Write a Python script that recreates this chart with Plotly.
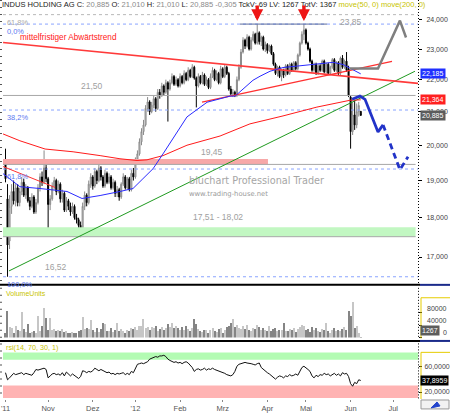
import math
import plotly.graph_objects as go

# ------------------------------------------------------------------ data
month_ticks = [0, 21, 43, 64, 86, 107, 129, 148, 170, 191]
month_labels = ["'11", "Nov", "Dez", "'12", "Feb", "Mrz", "Apr", "Mai", "Jun", "Jul"]

opens = [19.55, 18.50, 17.40, 18.30, 18.70, 18.45, 18.80, 18.40, 18.70, 18.95,
         18.60, 18.80, 18.45, 18.30, 18.55, 18.15, 18.40, 18.80, 19.10, 18.95,
         19.35, 19.05, 18.35, 18.50, 18.85, 19.00, 18.70, 18.90, 18.50, 18.65,
         18.20, 18.45, 18.30, 18.15, 18.30, 18.00, 17.95, 17.80, 17.65, 18.30,
         18.60, 18.40, 18.90, 19.10, 18.85, 19.25, 19.00, 19.35, 19.10, 18.85,
         19.20, 18.95, 19.10, 18.80, 18.95, 18.65, 18.75, 18.55, 18.90, 19.10,
         18.80, 19.05, 18.75, 19.20, 19.10, 19.60, 19.75, 20.10, 20.40, 20.60,
         21.10, 21.30, 21.00, 21.20, 21.40, 21.10, 21.60, 21.50, 21.80, 21.60,
         21.90, 21.70, 21.90, 22.10, 21.85, 22.00, 21.80, 22.10, 21.90, 22.20,
         22.00, 22.30, 22.10, 22.40, 22.05, 21.80, 22.10, 21.90, 22.15, 21.85,
         22.00, 21.75, 22.10, 22.30, 22.00, 22.20, 21.90, 22.35, 22.10, 22.40,
         22.20, 21.70, 21.55, 21.60, 21.50, 22.00, 22.40, 22.90, 23.30, 23.10,
         23.40, 23.00, 23.30, 23.50, 23.20, 23.55, 23.25, 23.40, 23.00, 23.15,
         22.95, 23.10, 22.85, 22.50, 22.20, 22.40, 22.10, 22.30, 22.15, 22.45,
         22.20, 22.50, 22.30, 22.55, 22.35, 22.80, 23.20, 23.50, 23.65, 23.20,
         23.00, 22.60, 22.30, 22.50, 22.20, 22.45, 22.30, 22.60, 22.25, 22.50,
         22.20, 22.40, 22.65, 22.30, 22.55, 22.20, 22.70, 22.40, 22.60, 22.35,
         21.45, 20.40, 20.90, 20.60, 21.00, 21.01]

highs = [19.90, 18.90, 18.60, 18.90, 19.00, 18.90, 18.90, 18.80, 19.10, 19.05,
         18.90, 18.85, 18.55, 18.65, 18.60, 18.50, 18.90, 19.20, 19.25, 19.85,
         19.45, 19.10, 18.60, 18.95, 19.10, 19.05, 19.00, 18.95, 18.75, 18.70,
         18.55, 18.50, 18.40, 18.40, 18.35, 18.10, 18.00, 17.90, 18.40, 18.70,
         18.65, 19.00, 19.20, 19.15, 19.35, 19.30, 19.50, 19.40, 19.15, 19.30,
         19.25, 19.20, 19.15, 19.05, 19.00, 18.85, 18.80, 18.95, 19.20, 19.15,
         19.10, 19.10, 19.30, 19.35, 19.65, 19.85, 20.20, 20.50, 20.75, 21.20,
         21.45, 21.35, 21.30, 21.50, 21.45, 21.70, 21.70, 21.90, 21.85, 22.00,
         21.95, 22.00, 22.20, 22.15, 22.10, 22.05, 22.20, 22.15, 22.30, 22.25,
         22.40, 22.35, 22.50, 22.45, 22.10, 22.20, 22.15, 22.25, 22.20, 22.10,
         22.05, 22.20, 22.40, 22.35, 22.30, 22.25, 22.45, 22.40, 22.50, 22.45,
         22.25, 21.80, 21.70, 21.65, 22.10, 22.50, 23.00, 23.40, 23.35, 23.50,
         23.45, 23.40, 23.60, 23.55, 23.85, 23.60, 23.45, 23.45, 23.25, 23.20,
         23.15, 23.15, 22.90, 22.55, 22.45, 22.45, 22.35, 22.35, 22.50, 22.50,
         22.55, 22.55, 22.60, 22.60, 22.85, 23.25, 23.60, 23.85, 23.70, 23.25,
         23.05, 22.65, 22.55, 22.55, 22.50, 22.50, 22.65, 22.65, 22.55, 22.55,
         22.45, 22.70, 22.70, 22.60, 22.60, 22.75, 22.80, 22.65, 22.90, 22.45,
         21.50, 21.30, 21.35, 21.25, 21.30, 21.01]

lows = [18.95, 16.52, 17.20, 18.10, 18.35, 18.30, 18.30, 18.30, 18.60, 18.55,
        18.50, 18.40, 18.20, 18.25, 18.10, 18.10, 18.35, 18.70, 18.85, 18.90,
        18.95, 17.60, 18.20, 18.45, 18.75, 18.60, 18.65, 18.40, 18.40, 18.15,
        18.15, 18.20, 18.05, 18.10, 17.95, 17.85, 17.70, 17.50, 17.60, 18.20,
        18.30, 18.35, 18.80, 18.75, 18.80, 18.90, 18.95, 19.00, 18.80, 18.80,
        18.90, 18.90, 18.75, 18.75, 18.55, 18.55, 18.45, 18.50, 18.85, 18.75,
        18.75, 18.70, 18.70, 19.00, 19.05, 19.50, 19.70, 20.00, 20.30, 20.55,
        21.00, 20.90, 20.95, 21.10, 21.00, 21.05, 21.40, 21.45, 21.50, 21.55,
        20.70, 21.65, 21.85, 21.80, 21.80, 21.75, 21.75, 21.85, 21.85, 21.95,
        21.95, 22.05, 22.05, 22.00, 21.13, 21.75, 21.85, 21.85, 21.80, 21.80,
        21.70, 21.70, 22.05, 21.95, 21.95, 21.85, 21.85, 22.05, 22.05, 22.15,
        21.65, 21.50, 21.45, 21.45, 21.45, 21.95, 22.35, 22.85, 23.00, 23.05,
        22.95, 22.95, 23.25, 23.15, 23.15, 23.15, 23.10, 22.95, 22.90, 22.85,
        22.90, 22.80, 22.45, 22.15, 22.10, 22.05, 21.95, 22.05, 22.10, 22.15,
        22.15, 22.25, 22.25, 22.30, 22.30, 22.75, 23.15, 23.30, 23.15, 22.95,
        22.55, 22.25, 22.25, 22.15, 22.15, 22.25, 22.25, 22.20, 22.20, 22.15,
        22.15, 22.35, 22.25, 22.25, 22.15, 22.15, 22.35, 22.35, 22.25, 21.45,
        19.90, 20.30, 20.45, 20.50, 20.85, 20.885]

closes = [19.05, 17.30, 18.30, 18.70, 18.45, 18.80, 18.40, 18.70, 18.95, 18.60,
          18.80, 18.45, 18.30, 18.55, 18.15, 18.40, 18.80, 19.10, 18.95, 19.35,
          19.05, 18.35, 18.50, 18.85, 19.00, 18.70, 18.90, 18.50, 18.65, 18.20,
          18.45, 18.30, 18.15, 18.30, 18.00, 17.95, 17.80, 17.65, 18.30, 18.60,
          18.40, 18.90, 19.10, 18.85, 19.25, 19.00, 19.35, 19.10, 18.85, 19.20,
          18.95, 19.10, 18.80, 18.95, 18.65, 18.75, 18.55, 18.90, 19.10, 18.80,
          19.05, 18.75, 19.20, 19.10, 19.60, 19.75, 20.10, 20.40, 20.60, 21.10,
          21.30, 21.00, 21.20, 21.40, 21.10, 21.60, 21.50, 21.80, 21.60, 21.90,
          21.70, 21.90, 22.10, 21.85, 22.00, 21.80, 22.10, 21.90, 22.20, 22.00,
          22.30, 22.10, 22.40, 22.05, 21.80, 22.10, 21.90, 22.15, 21.85, 22.00,
          21.75, 22.10, 22.30, 22.00, 22.20, 21.90, 22.35, 22.10, 22.40, 22.20,
          21.70, 21.55, 21.60, 21.50, 22.00, 22.40, 22.90, 23.30, 23.10, 23.40,
          23.00, 23.30, 23.50, 23.20, 23.55, 23.25, 23.40, 23.00, 23.15, 22.95,
          23.10, 22.85, 22.50, 22.20, 22.40, 22.10, 22.30, 22.15, 22.45, 22.20,
          22.50, 22.30, 22.55, 22.35, 22.80, 23.20, 23.50, 23.65, 23.20, 23.00,
          22.60, 22.30, 22.50, 22.20, 22.45, 22.30, 22.60, 22.25, 22.50, 22.20,
          22.40, 22.65, 22.30, 22.55, 22.20, 22.70, 22.40, 22.60, 22.30, 21.50,
          20.40, 20.90, 20.60, 21.00, 21.19, 20.885]

volumes = [16000, 87000, 34000, 32000, 16000, 39000, 24000, 22000, 83000, 27000,
           19000, 45000, 16000, 19000, 21000, 16000, 69000, 21000, 37000, 96000,
           64000, 23000, 64000, 25000, 27000, 21000, 23000, 21000, 27000, 18000,
           21000, 16000, 15000, 18000, 16000, 15000, 21000, 23000, 66000, 27000,
           30000, 27000, 57000, 24000, 19000, 31000, 19000, 28000, 48000, 45000,
           22000, 20000, 30000, 18000, 26000, 46000, 20000, 29000, 22000, 16000,
           25000, 21000, 31000, 29000, 33000, 24000, 36000, 38000, 59000, 30000,
           33000, 25000, 35000, 32000, 37000, 22000, 28000, 35000, 26000, 31000,
           45000, 33000, 48000, 31000, 38000, 30000, 26000, 35000, 24000, 36000,
           27000, 22000, 30000, 59000, 45000, 29000, 22000, 18000, 26000, 23000,
           16000, 26000, 30000, 20000, 19000, 28000, 32000, 16000, 24000, 35000,
           38000, 47000, 59000, 33000, 42000, 31000, 27000, 37000, 29000, 40000,
           26000, 22000, 31000, 28000, 42000, 35000, 26000, 32000, 24000, 22000,
           38000, 21000, 27000, 31000, 20000, 25000, 23000, 48000, 22000, 20000,
           29000, 25000, 31000, 19000, 27000, 33000, 40000, 36000, 24000, 29000,
           19000, 33000, 24000, 30000, 21000, 19000, 27000, 23000, 48000, 22000,
           16000, 26000, 30000, 21000, 26000, 20000, 27000, 33000, 25000, 87000,
           69000, 115000, 32000, 37000, 16000, 1267]

rsi = [50, 39, 42, 46, 49, 47, 48, 48, 50, 47,
       49, 48, 47, 46, 50, 55, 54, 55, 56, 57,
       55, 42, 45, 48, 49, 47, 48, 46, 50, 45,
       51, 48, 45, 48, 46, 44, 41, 44, 53, 52,
       50, 52, 51, 53, 57, 55, 53, 55, 53, 52,
       50, 51, 48, 49, 47, 49, 48, 49, 50, 47,
       49, 47, 52, 50, 57, 63, 64, 65, 64, 66,
       67, 71, 72, 73, 75, 74, 76, 76, 77, 75,
       71, 69, 68, 66, 67, 65, 66, 64, 66, 67,
       65, 62, 58, 52, 55, 56, 54, 55, 57, 54,
       56, 55, 57, 55, 54, 53, 52, 50, 49, 47,
       46, 45, 47, 52, 60, 63, 64, 65, 66, 65,
       65, 64, 63, 62, 64, 65, 58, 55, 52, 50,
       48, 45, 42, 40, 43, 45, 44, 42, 45, 44,
       47, 45, 46, 48, 46, 52, 58, 60, 58, 55,
       52, 45, 42, 46, 44, 47, 46, 49, 47, 48,
       45, 47, 49, 46, 48, 45, 50, 48, 49, 44,
       33, 29, 35, 33, 39, 37.8959]

ma50_x = [-1.2, 7.1, 17.0, 30.3, 37.7, 46.6, 56.4, 62.8, 67.7, 72.7, 77.6, 82.5, 89.4,
          99.3, 110.6, 113.1, 118.0, 121.9, 125.4, 130.3, 136.7, 150.0, 161.3, 166.3,
          170.7, 175.0]
ma50_y = [19.19, 18.83, 18.78, 18.70, 18.51, 18.59, 18.70, 18.78, 19.05, 19.33, 19.75,
          20.21, 20.84, 21.29, 21.48, 21.48, 21.76, 21.98, 22.11, 22.27, 22.39, 22.49,
          22.56, 22.49, 22.33, 22.185]

ma200_x = [-1.2, 7.1, 19.5, 33.3, 46.6, 56.4, 64.8, 69.7, 77.6, 89.4, 105.7, 120.4,
           136.7, 153.4, 169.7, 175.0]
ma200_y = [20.33, 20.13, 19.89, 19.81, 19.70, 19.61, 19.56, 19.58, 19.70, 20.00, 20.27,
           20.63, 20.87, 21.14, 21.35, 21.364]

downtrend_x, downtrend_y = [-1.2, 203.2], [23.22, 21.88]
rising_red_x, rising_red_y = [96.8, 190.4], [21.29, 22.59]
left_red_x, left_red_y = [-1.2, 24.4], [19.39, 18.81]
uptrend_x, uptrend_y = [1.7, 201.7], [16.66, 22.27]

forecast_gray_x = [169.7, 183.5, 194.3, 197.3]
forecast_gray_y = [22.36, 22.36, 23.97, 23.39]
forecast_blue_x = [170.7, 174.6, 177.1, 179.6, 182.0, 183.5, 186.0]
forecast_blue_y = [21.38, 21.48, 21.38, 20.99, 20.57, 20.39, 20.60]
forecast_blue_dash_x = [186.0, 194.3, 198.3]
forecast_blue_dash_y = [20.60, 19.30, 19.67]

level_2150 = 21.50
level_1945 = 19.45
pink_zone = (19.45, 19.60)
pink_zone_end = 129.3
green_zone = (17.51, 17.75)
green_zone_label = "17,51 - 18,02"
zone_end = 202.0
upper_fib = 24.18
double_top_x = [115.5, 158.4]
arrow_days = [124, 147]

fib_ratios = [0.0, 0.382, 0.618, 1.0]
fib_labels = ["0,0%", "38,2%", "61,8%", "100,0%"]

vol_ticks = [0, 40000, 80000]
price_ticks = [17, 18, 19, 20, 21, 22, 23, 24]
rsi_ticks = [20, 60]

ma50_last, ma200_last = 22.185, 21.364

# ------------------------------------------------------------------ helpers
X0, X1 = -1.23, 203.2
W, H = 450, 413
ML, MR, MT, MB = 3, 32, 0, 11
PW, PH = W - ML - MR, H - MT - MB


def px_x(px):
    return (px - ML) / PW


def px_y(py):
    return 1 - (py - MT) / PH


def de(v, nd):
    return f"{v:.{nd}f}".replace(".", ",")


FONT = "Liberation Sans"
days = list(range(len(closes)))
hi = max(highs)
lo = min(lows)
fib_levels = [hi - r * (hi - lo) for r in fib_ratios]

fig = go.Figure()


def line(x, y, color, width=1, dash=None, axis="y"):
    fig.add_trace(go.Scatter(x=x, y=y, mode="lines", yaxis=axis, hoverinfo="skip",
                             line=dict(color=color, width=width, dash=dash),
                             showlegend=False))


def band(x0, x1, y0, y1, color, axis="y"):
    fig.add_trace(go.Scatter(x=[x0, x1, x1, x0, x0], y=[y0, y0, y1, y1, y0],
                             mode="lines", fill="toself", fillcolor=color,
                             line=dict(width=0), yaxis=axis, hoverinfo="skip",
                             showlegend=False))


# zones and levels
band(X0, zone_end, green_zone[0], green_zone[1], "#c2f7c2")
line([X0, zone_end], [green_zone[0]] * 2, "#a8a8a8")
band(X0, pink_zone_end, pink_zone[0], pink_zone[1], "#f7a8a8")
line([X0, zone_end], [level_1945] * 2, "#a8a8a8")
line([X0, zone_end], [level_2150] * 2, "#a8a8a8")
for lv in fib_levels:
    line([X0, X1], [lv, lv], "#8aa4ff", 1, "dot")
line([X0, X1], [upper_fib, upper_fib], "#b8b8b8", 1, "dot")
line(double_top_x, [hi, hi], "#5c6b9c", 1)

# trend lines
line(uptrend_x, uptrend_y, "#1f9a1f", 1)
line(left_red_x, left_red_y, "#ff3030", 1)
line(downtrend_x, downtrend_y, "#ff3a3a", 1.6)
line(rising_red_x, rising_red_y, "#ff3030", 1.3)
line(ma200_x, ma200_y, "#ff1a1a", 1)
line(ma50_x, ma50_y, "#2a2aff", 1)

# candles
fig.add_trace(go.Candlestick(
    x=days, open=opens, high=highs, low=lows, close=closes, yaxis="y",
    increasing=dict(line=dict(color="#8a8a8a", width=1), fillcolor="#d6d6d6"),
    decreasing=dict(line=dict(color="#000000", width=1), fillcolor="#000000"),
    hoverinfo="skip", showlegend=False))

# forecasts
line(forecast_gray_x, forecast_gray_y, "#7f7f7f", 2.5)
line(forecast_blue_x, forecast_blue_y, "#2233c8", 2.8)
line(forecast_blue_dash_x, forecast_blue_dash_y, "#2233c8", 2.8, "6px,4px")

# volume
vol_colors = ["#c6c6c6" if c >= o else "#858585" for o, c in zip(opens, closes)]
fig.add_trace(go.Bar(x=days, y=volumes, yaxis="y2", marker=dict(color=vol_colors, line=dict(width=0)),
                     width=0.55, hoverinfo="skip", showlegend=False))

# RSI
RSI_RANGE = [9.2, 95.4]
band(X0, X1, 70, 81.5, "#b3fbb3", "y3")
band(X0, X1, 10.6, 30, "#ffb3b3", "y3")
line(days, rsi, "#111111", 1, None, "y3")

# ------------------------------------------------------------------ layout
main_dom = [px_y(286), 1]
vol_dom = [px_y(340), px_y(290)]
rsi_dom = [0, px_y(346)]

tickfont = dict(family=FONT, size=7, color="#444444")

fig.update_layout(
    width=W, height=H, margin=dict(l=ML, r=MR, t=MT, b=MB),
    paper_bgcolor="white", plot_bgcolor="white", showlegend=False,
    bargap=0,
    xaxis=dict(range=[X0, X1], anchor="y3", tickvals=month_ticks, ticktext=month_labels,
               tickfont=dict(family=FONT, size=7.5, color="#555555"),
               ticks="outside", ticklen=2, tickcolor="#888888",
               showgrid=False, zeroline=False, showline=False,
               rangeslider=dict(visible=False)),
    yaxis=dict(domain=main_dom, type="log", anchor="x", side="right",
               range=[math.log10(16.35), math.log10(24.70)],
               tickvals=price_ticks, ticktext=[de(v, 3) for v in price_ticks],
               tickfont=tickfont, ticks="outside", ticklen=3, tickcolor="#000000",
               ticklabelstandoff=3,
               showgrid=False, zeroline=False, showline=False),
    yaxis2=dict(domain=vol_dom, anchor="x", side="right", range=[0, 160000],
                tickvals=vol_ticks, showticklabels=False,
                ticks="outside", ticklen=3, tickcolor="#000000",
                showgrid=False, zeroline=False, showline=False),
    yaxis3=dict(domain=rsi_dom, anchor="x", side="right", range=RSI_RANGE,
                tickvals=rsi_ticks, ticktext=[de(v, 4) for v in rsi_ticks],
                tickfont=tickfont, ticks="outside", ticklen=3, tickcolor="#000000",
                ticklabelstandoff=1,
                showgrid=False, zeroline=False, showline=False),
)

ann = []


def text_ann(x, y, text, size, color, xanchor="left", yanchor="middle", xref="x", yref="y",
             family=FONT, yshift=0, xshift=0):
    ann.append(dict(x=x, y=y, xref=xref, yref=yref, text=text, showarrow=False,
                    xanchor=xanchor, yanchor=yanchor, yshift=yshift, xshift=xshift,
                    font=dict(family=family, size=size, color=color)))


L = math.log10
dk, gv = "#222222", "#8a8a8a"
title = (f"<span style='color:{dk}'>INDUS HOLDING AG C: </span><span style='color:{gv}'>{de(closes[-1], 3)}</span>"
         f"<span style='color:{dk}'> O: </span><span style='color:{gv}'>{de(opens[-1], 3)}</span>"
         f"<span style='color:{dk}'> H: </span><span style='color:{gv}'>{de(highs[-1], 3)}</span>"
         f"<span style='color:{dk}'> L: </span><span style='color:{gv}'>{de(lows[-1], 3)}</span>"
         f"<span style='color:{gv}'> {de(closes[-1] - closes[-2], 3)}</span>"
         f"<span style='color:{dk}'> TckV: 69 LV: {volumes[-1]} TotV: 1367</span>"
         f"<span style='color:#c8c400'> move(50, 0) move(200, 0)</span>")
text_ann(px_x(0), px_y(5), title, 7.55, dk, xref="paper", yref="paper")
text_ann(6.2, L(23.42), "mittelfristiger Abwärtstrend", 8.2, "#ff2020", yshift=-1)

# fib labels
text_ann(px_x(5), L(upper_fib), "61,8%", 7.4, "#a8a8a8", xref="paper", yanchor="top", yshift=-1)
for lv, lab in zip(fib_levels, fib_labels):
    text_ann(px_x(5), L(lv), lab, 7.4, "#5a78f0", xref="paper", yanchor="top", yshift=-1)

# level labels
text_ann(42.8, L(level_2150), de(level_2150, 2), 8.5, "#a0a0a0", xanchor="center", yanchor="bottom", yshift=2)
text_ann(101.7, L(level_1945), de(level_1945, 2), 8.5, "#a0a0a0", xanchor="center", yanchor="bottom", yshift=5)
text_ann(104.7, L(green_zone[1]), green_zone_label, 8.5, "#a0a0a0", xanchor="center", yanchor="bottom", yshift=3)
text_ann(24.9, L(lo), de(lo, 2), 8.5, "#a0a0a0", xanchor="center", yanchor="bottom", yshift=3)
text_ann(170.4, L(hi), de(hi, 2), 8.5, "#a0a0a0", xanchor="center", yanchor="middle", yshift=2)

# watermark
text_ann(89.4, L(19.0), "bluchart Professional Trader", 9.7, "#a6a6a6", family="DejaVu Sans")
text_ann(89.4, L(18.62), "www.trading-house.net", 6.8, "#9a9a9a", family="DejaVu Sans")

# panel labels
text_ann(px_x(4), px_y(296), "VolumeUnits", 7, "#c8c400", xref="paper", yref="paper")
text_ann(px_x(4), px_y(350), "rsi(14, 70, 30, 1)", 7.2, "#c8c400", xref="paper", yref="paper")

# volume axis labels (right-aligned, above their ticks)
for v in vol_ticks:
    text_ann(px_x(449), v, str(v), 7, "#444444", xanchor="right", yanchor="bottom",
             xref="paper", yref="y2", yshift=-1)


def box(y, yref, text, bg, yanchor="middle", yshift=0):
    ann.append(dict(x=1, xref="paper", y=y, yref=yref, text=text, showarrow=False,
                    xanchor="left", yanchor=yanchor, xshift=2, yshift=yshift, bgcolor=bg, borderpad=1,
                    font=dict(family=FONT, size=7, color="white")))


box(L(ma50_last), "y", de(ma50_last, 3), "#2030ff")
box(L(ma200_last), "y", de(ma200_last, 3), "#ff2020")
box(L(closes[-1]), "y", de(closes[-1], 3), "#5c5c5c")
box(volumes[-1], "y2", str(volumes[-1]), "#5c5c5c", "bottom", 1)
box(rsi[-1], "y3", de(rsi[-1], 4), "#000000")

# red arrows at the double top
for d in arrow_days:
    ann.append(dict(x=d, y=L(highs[d]), xref="x", yref="y", text="", showarrow=True,
                    ax=0, ay=-17, arrowhead=2, arrowsize=0.7, arrowwidth=3.4,
                    arrowcolor="#ee1515", yshift=3))

fig.update_layout(annotations=ann)

# decorations (panel separators, axis lines)
shapes = []


def pline(x0, y0, x1, y1, color, width=1, dash=None):
    shapes.append(dict(type="line", xref="paper", yref="paper", x0=px_x(x0), y0=px_y(y0),
                       x1=px_x(x1), y1=px_y(y1), line=dict(color=color, width=width, dash=dash)))


pline(0, 287, 420, 287, "#000000", 2)
pline(420, 287, 450, 287, "#1a2a8a", 2)
pline(0, 343.5, 420, 343.5, "#000000", 2)
pline(420, 343.5, 450, 343.5, "#1a2a8a", 2)
for top, bot in [(0, 286), (290, 341), (346, 402)]:
    pline(418.5, top, 418.5, bot, "#000000", 1, "1px,2px")
    pline(1, top, 1, bot, "#555555", 2, "1px,6px")
pline(421, 300, 450, 300, "#e6cc00", 1)
pline(421, 300, 421, 341, "#e6cc00", 1)
pline(421, 355, 450, 355, "#e6cc00", 1)
pline(421, 355, 421, 402, "#e6cc00", 1)
shapes.append(dict(type="rect", xref="paper", yref="paper", x0=px_x(421), x1=px_x(449),
                   y0=px_y(412), y1=px_y(403), line=dict(color="#999999", width=1),
                   fillcolor="#f2f2f2"))
shapes.append(dict(type="path", xref="paper", yref="paper",
                   path=f"M {px_x(431)} {px_y(411)} L {px_x(437)} {px_y(405)} L {px_x(440)} {px_y(409)} Z",
                   fillcolor="#2244cc", line=dict(color="#2244cc", width=1)))
fig.update_layout(shapes=shapes)

fig.write_html("out.html")
